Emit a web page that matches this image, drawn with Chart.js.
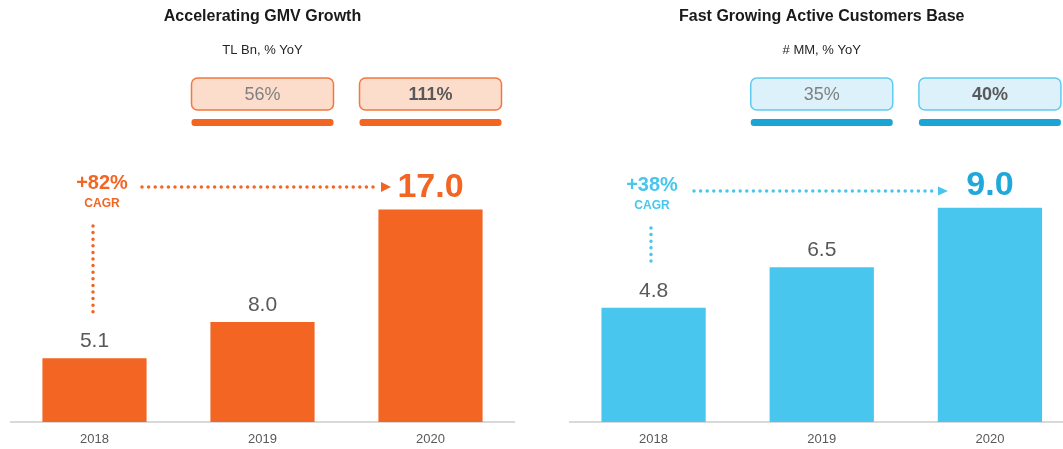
<!DOCTYPE html>
<html lang="en">
<head>
    <meta charset="UTF-8">
    <title>GMV and Active Customers</title>
    <script src="https://cdn.jsdelivr.net/npm/chart.js"></script>
    <style>
        body { margin: 0; background: #fff; overflow: hidden; width: 1063px; height: 449px; position: relative; }
        .panel { position: absolute; top: 0; height: 449px; }
        #gmvPanel { left: 0; width: 525px; }
        #custPanel { left: 545px; width: 552px; }
    </style>
</head>
<body>
    <div class="panel" id="gmvPanel"><canvas id="gmvChart"></canvas></div>
    <div class="panel" id="custPanel"><canvas id="custChart"></canvas></div>

    <script>
        // chart data
        const years = ['2018', '2019', '2020'];
        const gmvValues = [5.1, 8.0, 17.0];
        const customerValues = [4.8, 6.5, 9.0];
        const gmvYoY = ['56%', '111%'];      // 2019, 2020
        const customerYoY = ['35%', '40%'];  // 2019, 2020
        const gmvCagr = '+82%';
        const customerCagr = '+38%';

        const FONT = "'Liberation Sans', Arial, sans-serif";

        // draws the growth pills, value labels and CAGR arrows
        const annotations = {
            id: 'annotations',
            afterDatasetsDraw(chart, args, o) {
                const ctx = chart.ctx;
                const x = chart.scales.x;
                const y = chart.scales.y;
                const values = chart.data.datasets[0].data;
                const last = values.length - 1;
                const ox = o.offsetX;
                ctx.save();

                // YoY pills + underbars
                o.yoy.forEach((txt, k) => {
                    const cx = x.getPixelForValue(k + 1);
                    ctx.beginPath();
                    ctx.roundRect(cx - 71, 78, 142, 32, 6);
                    ctx.fillStyle = o.boxFill;
                    ctx.fill();
                    ctx.lineWidth = 1.5;
                    ctx.strokeStyle = o.boxStroke;
                    ctx.stroke();
                    ctx.fillStyle = k === o.yoy.length - 1 ? '#595959' : '#808080';
                    ctx.font = (k === o.yoy.length - 1 ? 'bold ' : '') + '18px ' + FONT;
                    ctx.textAlign = 'center';
                    ctx.textBaseline = 'middle';
                    ctx.fillText(txt, cx, 95);
                    ctx.beginPath();
                    ctx.roundRect(cx - 71, 119, 142, 7, 3);
                    ctx.fillStyle = o.strong;
                    ctx.fill();
                });

                // value labels
                values.forEach((v, i) => {
                    const cx = x.getPixelForValue(i);
                    const top = y.getPixelForValue(v);
                    ctx.textAlign = 'center';
                    ctx.textBaseline = 'alphabetic';
                    if (i === last) {
                        ctx.font = 'bold 34px ' + FONT;
                        ctx.fillStyle = o.lastColor;
                        ctx.fillText(v.toFixed(1), cx, top - 13);
                    } else {
                        ctx.font = '21px ' + FONT;
                        ctx.fillStyle = '#595959';
                        ctx.fillText(v.toFixed(1), cx, top - 11);
                    }
                });

                // CAGR text
                ctx.fillStyle = o.accent;
                ctx.textBaseline = 'middle';
                ctx.font = 'bold 20px ' + FONT;
                ctx.fillText(o.cagr, o.cagrX - ox, o.cagrY);
                ctx.font = 'bold 12px ' + FONT;
                ctx.fillText('CAGR', o.cagrX - ox, o.capY);

                // dotted lines
                ctx.strokeStyle = o.accent;
                ctx.lineWidth = 3.5;
                ctx.lineCap = 'round';
                ctx.setLineDash([0, 6.6]);
                ctx.beginPath();
                ctx.moveTo(o.arrow.x0 - ox, o.arrow.y);
                ctx.lineTo(o.arrow.x1 - 4 - ox, o.arrow.y);
                ctx.moveTo(o.vline.x - ox, o.vline.y0);
                ctx.lineTo(o.vline.x - ox, o.vline.y1);
                ctx.stroke();
                ctx.setLineDash([]);

                // arrow head
                ctx.fillStyle = o.accent;
                ctx.beginPath();
                ctx.moveTo(o.arrow.x1 - ox, o.arrow.y - o.arrow.h / 2);
                ctx.lineTo(o.arrow.tip - ox, o.arrow.y);
                ctx.lineTo(o.arrow.x1 - ox, o.arrow.y + o.arrow.h / 2);
                ctx.closePath();
                ctx.fill();

                ctx.restore();
            }
        };

        function makeChart(id, title, subtitle, values, yMax, barColor, padL, padR, ann) {
            return new Chart(document.getElementById(id), {
                type: 'bar',
                data: {
                    labels: years,
                    datasets: [{
                        data: values,
                        backgroundColor: barColor,
                        borderWidth: 0,
                        barPercentage: 0.62,
                        categoryPercentage: 1
                    }]
                },
                options: {
                    responsive: true,
                    maintainAspectRatio: false,
                    animation: false,
                    layout: { padding: { left: padL, right: padR, top: 0, bottom: 0 } },
                    plugins: {
                        legend: { display: false },
                        tooltip: { enabled: false },
                        title: {
                            display: true,
                            text: title,
                            color: '#1a1a1a',
                            font: { family: FONT, size: 16, weight: 'bold', lineHeight: 1.2 },
                            padding: { top: 7.4, bottom: 0 }
                        },
                        subtitle: {
                            display: true,
                            text: subtitle,
                            color: '#262626',
                            font: { family: FONT, size: 13, lineHeight: 1.2 },
                            padding: { top: 15.6, bottom: 114.2 }
                        },
                        annotations: ann
                    },
                    scales: {
                        x: {
                            grid: { display: false, drawTicks: false },
                            border: { display: true, color: '#D9D9D9', width: 2 },
                            ticks: { color: '#595959', padding: 10, font: { family: FONT, size: 13 } },
                            afterFit(scale) { scale.height = 27; }
                        },
                        y: { display: false, min: 0, max: yMax }
                    }
                },
                plugins: [annotations]
            });
        }

        makeChart('gmvChart', 'Accelerating GMV Growth', 'TL Bn, % YoY', gmvValues, 20, '#F26522', 10.5, 10.5, {
            offsetX: 0,
            yoy: gmvYoY,
            cagr: gmvCagr,
            boxFill: '#FCDDCC', boxStroke: '#F4773F', strong: '#F26522',
            accent: '#F26522', lastColor: '#F26522',
            cagrX: 102, cagrY: 183, capY: 204,
            arrow: { x0: 142, x1: 381, tip: 391, y: 187, h: 10 },
            vline: { x: 93, y0: 226, y1: 318 }
        });

        makeChart('custChart', 'Fast Growing Active Customers Base', '# MM, % YoY', customerValues, 10.5, '#49C6ED', 24.5, 23, {
            offsetX: 545,
            yoy: customerYoY,
            cagr: customerCagr,
            boxFill: '#DCF1FA', boxStroke: '#5FCCEF', strong: '#1AA5D5',
            accent: '#49C6ED', lastColor: '#1FA8DA',
            cagrX: 652, cagrY: 185, capY: 206,
            arrow: { x0: 694, x1: 938, tip: 948, y: 191, h: 9 },
            vline: { x: 651, y0: 228, y1: 262 }
        });
    </script>
</body>
</html>
